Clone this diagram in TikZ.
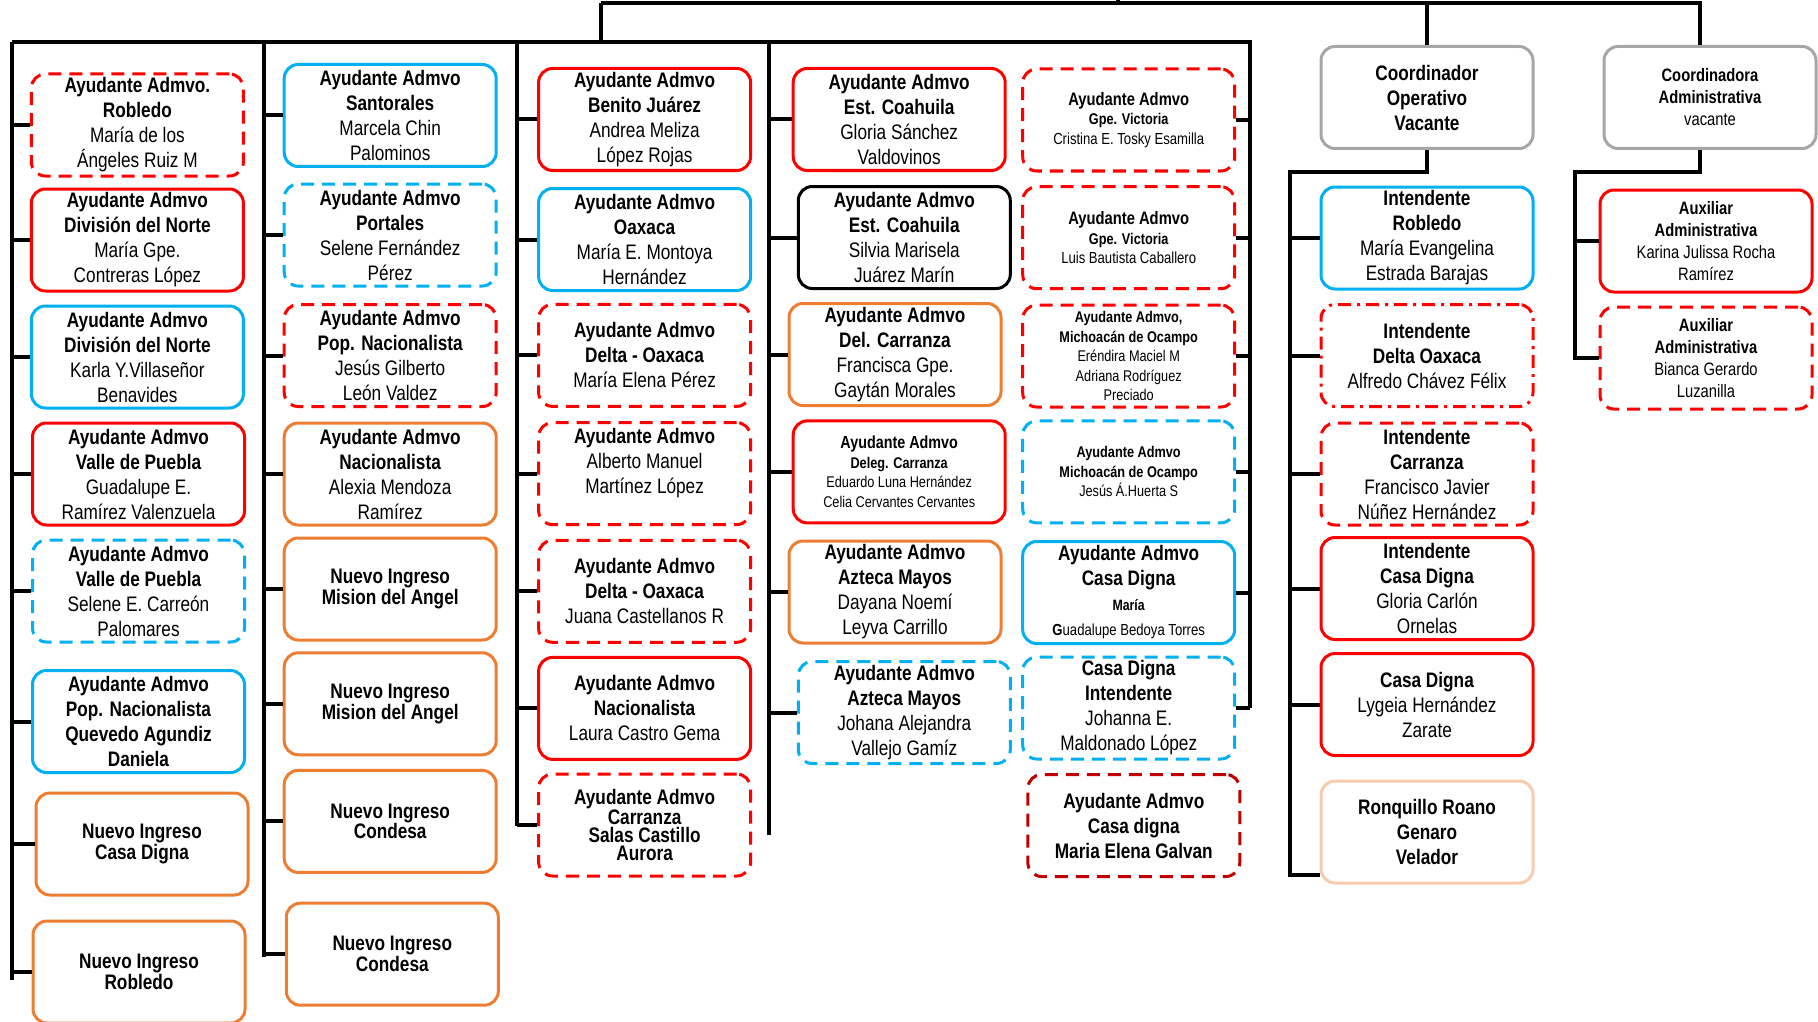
\documentclass[tikz,border=0pt]{standalone}
\usepackage{fontspec}
\setmainfont{Liberation Sans}
\newfontfamily\nar{Liberation Sans}[FakeStretch=0.82]
\definecolor{cred}{HTML}{FF0000}
\definecolor{cblue}{HTML}{00B0F0}
\definecolor{corange}{HTML}{ED7D31}
\definecolor{cgray}{HTML}{A6A6A6}
\definecolor{cpeach}{HTML}{F8CBAD}
\definecolor{cdred}{HTML}{C00000}
\newcommand\bl[1]{\textbf{#1}}
\newcommand\fs[2]{\fontsize{#1}{#2}\selectfont}
\tikzset{
  bx/.style={rounded corners=14pt, line width=3pt, minimum width=212pt, minimum height=102pt,
    inner sep=0pt, align=center, font=\nar\fs{21}{25}},
  dsh/.style={dash pattern=on 13pt off 8pt},
  ddot/.style={dash pattern=on 13pt off 6pt on 3pt off 6pt},
  redbox/.style={bx, draw=cred},
  rdbox/.style={bx, draw=cred, dsh},
  rddbox/.style={bx, draw=cred, ddot},
  bluebox/.style={bx, draw=cblue},
  bdbox/.style={bx, draw=cblue, dsh},
  obox/.style={bx, draw=corange},
  kbox/.style={bx, draw=black},
  gbox/.style={bx, draw=cgray},
  pbox/.style={bx, draw=cpeach},
  drbox/.style={bx, draw=cdred, dsh},
  tight/.style={font=\nar\bfseries\fs{21}{18}},
  small/.style={font=\nar\fs{15.5}{19.5}},
  mid/.style={font=\nar\fs{18}{22}},
  conn/.style={line width=4pt, line join=miter}
}
\begin{document}
\begin{tikzpicture}[x=1pt,y=-1pt]
\useasboundingbox (0,0) rectangle (1818,1022);

% ---------- column 1
\node[rdbox] (c1a) at (137.4,125) {\bl{Ayudante Admvo.}\\\bl{Robledo}\\María de los\\Ángeles Ruiz M};
\node[redbox] (c1b) at (137.4,240) {\bl{Ayudante Admvo}\\\bl{División del Norte}\\María Gpe.\\Contreras López};
\node[bluebox] (c1c) at (137.4,357) {\bl{Ayudante Admvo}\\\bl{División del Norte}\\Karla Y.Villaseñor\\Benavides};
\node[redbox] (c1d) at (138.5,474) {\bl{Ayudante Admvo}\\\bl{Valle de Puebla}\\Guadalupe E.\\Ramírez Valenzuela};
\node[bdbox] (c1e) at (138.5,591) {\bl{Ayudante Admvo}\\\bl{Valle de Puebla}\\Selene E. Carreón\\Palomares};
\node[bluebox] (c1f) at (138.5,721.5) {\bl{Ayudante Admvo}\\\bl{Pop. Nacionalista}\\\bl{Quevedo Agundiz}\\\bl{Daniela}};
\node[obox,tight] (c1g) at (142,844) {Nuevo Ingreso\\Casa Digna};
\node[obox,tight] (c1h) at (139,972) {Nuevo Ingreso\\Robledo};

% ---------- column 2
\node[bluebox] (c2a) at (390.2,115.5) {\bl{Ayudante Admvo}\\\bl{Santorales}\\Marcela Chin\\Palominos};
\node[bdbox] (c2b) at (390.2,235) {\bl{Ayudante Admvo}\\\bl{Portales}\\Selene Fernández\\Pérez};
\node[rdbox] (c2c) at (390.2,355.5) {\bl{Ayudante Admvo}\\\bl{Pop. Nacionalista}\\Jesús Gilberto\\León Valdez};
\node[obox] (c2d) at (390.2,474) {\bl{Ayudante Admvo}\\\bl{Nacionalista}\\Alexia Mendoza\\Ramírez};
\node[obox,tight] (c2e) at (390.2,589) {Nuevo Ingreso\\Mision del Angel};
\node[obox,tight] (c2f) at (390.2,703.8) {Nuevo Ingreso\\Mision del Angel};
\node[obox,tight] (c2g) at (390.2,821.4) {Nuevo Ingreso\\Condesa};
\node[obox,tight] (c2h) at (392.3,954.2) {Nuevo Ingreso\\Condesa};

% ---------- column 3
\node[redbox] (c3a) at (644.6,119.5) {\bl{Ayudante Admvo}\\\bl{Benito Juárez}\\Andrea Meliza\\López Rojas};
\node[bluebox] (c3b) at (644.6,239.5) {\bl{Ayudante Admvo}\\\bl{Oaxaca}\\María E. Montoya\\Hernández};
\node[rdbox] (c3c) at (644.6,355.4) {\bl{Ayudante Admvo}\\\bl{Delta - Oaxaca}\\María Elena Pérez};
\node[rdbox] (c3d) at (644.6,473.6) {\bl{Ayudante Admvo}\\Alberto Manuel\\Martínez López\\\mbox{}};
\node[rdbox] (c3e) at (644.6,591.3) {\bl{Ayudante Admvo}\\\bl{Delta - Oaxaca}\\Juana Castellanos R};
\node[redbox] (c3f) at (644.6,708.4) {\bl{Ayudante Admvo}\\\bl{Nacionalista}\\Laura Castro Gema};
\node[rdbox,tight] (c3g) at (644.6,825) {Ayudante Admvo\\Carranza\\Salas Castillo\\Aurora};

% ---------- column 4
\node[redbox] (c4a) at (899.2,119.5) {\bl{Ayudante Admvo}\\\bl{Est. Coahuila}\\Gloria Sánchez\\Valdovinos};
\node[kbox] (c4b) at (904.3,237.5) {\bl{Ayudante Admvo}\\\bl{Est. Coahuila}\\Silvia Marisela\\Juárez Marín};
\node[obox] (c4c) at (895,354.5) {\bl{Ayudante Admvo}\\\bl{Del. Carranza}\\Francisca Gpe.\\Gaytán Morales};
\node[redbox,small] (c4d) at (899.2,471.9) {\bl{\fs{17.5}{20}Ayudante Admvo}\\\bl{Deleg. Carranza}\\Eduardo Luna Hernández\\Celia Cervantes Cervantes};
\node[obox] (c4e) at (895,592) {\bl{Ayudante Admvo}\\\bl{Azteca Mayos}\\Dayana Noemí\\Leyva Carrillo};
\node[bdbox] (c4f) at (904.3,712.5) {\bl{Ayudante Admvo}\\\bl{Azteca Mayos}\\Johana Alejandra\\Vallejo Gamíz};

% ---------- column 5
\node[rdbox,small] (c5a) at (1128.7,120) {\bl{\fs{18}{20}Ayudante Admvo}\\\bl{Gpe. Victoria}\\{\fs{16}{19}Cristina E. Tosky Esamilla}};
\node[rdbox,small] (c5b) at (1128.7,237.7) {\bl{\fs{18}{20}Ayudante Admvo}\\\bl{Gpe. Victoria}\\{\fs{16}{19}Luis Bautista Caballero}};
\node[rdbox,small] (c5c) at (1128.7,356) {\bl{Ayudante Admvo,}\\\bl{Michoacán de Ocampo}\\Eréndira Maciel M\\Adriana Rodríguez\\Preciado};
\node[bdbox,small] (c5d) at (1128.7,471.9) {\bl{Ayudante Admvo}\\\bl{Michoacán de Ocampo}\\Jesús Á.Huerta S};
\node[bluebox] (c5e) at (1128.7,592.5) {\bl{Ayudante Admvo}\\\bl{Casa Digna}\\\bl{\fs{15}{19}María}\\{\fs{16}{19}\textbf{G}uadalupe Bedoya Torres}};
\node[bdbox] (c5f) at (1128.7,708) {\bl{Casa Digna}\\\bl{Intendente}\\Johanna E.\\Maldonado López};
\node[drbox] (c5g) at (1133.8,825.5) {\bl{Ayudante Admvo}\\\bl{Casa digna}\\\bl{Maria Elena Galvan}};

% ---------- coordinators
\node[gbox] (co) at (1427,97.5) {\bl{Coordinador}\\\bl{Operativo}\\\bl{Vacante}};
\node[gbox,mid] (ca) at (1710,97.5) {\bl{Coordinadora}\\\bl{Administrativa}\\vacante};

\node[bluebox] (o1) at (1427,238) {\bl{Intendente}\\\bl{Robledo}\\María Evangelina\\Estrada Barajas};
\node[rddbox] (o2) at (1427,355.5) {\bl{Intendente}\\\bl{Delta Oaxaca}\\Alfredo Chávez Félix};
\node[rdbox] (o3) at (1427,474) {\bl{Intendente}\\\bl{Carranza}\\Francisco Javier\\Núñez Hernández};
\node[redbox] (o4) at (1427,588.5) {\bl{Intendente}\\\bl{Casa Digna}\\Gloria Carlón\\Ornelas};
\node[redbox] (o5) at (1427,704.5) {\bl{Casa Digna}\\Lygeia Hernández\\Zarate};
\node[pbox] (o6) at (1427,832) {\bl{Ronquillo Roano}\\\bl{Genaro}\\\bl{Velador}};

\node[redbox,mid] (a1) at (1706,241) {\bl{Auxiliar}\\\bl{Administrativa}\\Karina Julissa Rocha\\Ramírez};
\node[rdbox,mid] (a2) at (1706,358) {\bl{Auxiliar}\\\bl{Administrativa}\\Bianca Gerardo\\Luzanilla};

% ---------- trunk coordinates
\coordinate (top0) at (600.6,3.5);
\coordinate (top1) at (1117.7,3.5);
\coordinate (topup) at (1117.7,-6);
\coordinate (topR) at (1700,3.5);
\coordinate (hL) at (11.6,41.7);
\coordinate (hM) at (600.6,41.7);
\coordinate (hR) at (1249.8,41.7);
\coordinate (k1) at (11.6,41.7);   \coordinate (k1b) at (11.6,980);
\coordinate (k2) at (264.3,41.7);  \coordinate (k2b) at (264.3,956.5);
\coordinate (k3) at (517,41.7);    \coordinate (k3b) at (517,825.5);
\coordinate (k4) at (769,41.7);    \coordinate (k4b) at (769,835);
\coordinate (k5b) at (1249.8,708);
\coordinate (opk) at (1290,172);   \coordinate (opkb) at (1290,875);
\coordinate (adk) at (1574.5,172); \coordinate (adkb) at (1574.5,358);

% ---------- connectors
\draw[conn] (top0) -- (topR) -- (topR |- ca.north);
\draw[conn] (top1) -- (topup);
\draw[conn] (top0) -- (hM);
\draw[conn] (hL) -- (hR) -- (k5b);
\draw[conn] (co.north |- top0) -- (co.north);
\draw[conn] (k1) -- (k1b);
\draw[conn] (k2) -- (k2b);
\draw[conn] (k3) -- (k3b);
\draw[conn] (k4) -- (k4b);
\foreach \n in {c1a,c1b,c1c,c1d,c1e,c1f,c1g,c1h} \draw[conn] (k1 |- \n.west) -- (\n.west);
\foreach \n in {c2a,c2b,c2c,c2d,c2e,c2f,c2g,c2h} \draw[conn] (k2 |- \n.west) -- (\n.west);
\foreach \n in {c3a,c3b,c3c,c3d,c3e,c3f,c3g} \draw[conn] (k3 |- \n.west) -- (\n.west);
\foreach \n in {c4a,c4b,c4c,c4d,c4e,c4f} \draw[conn] (k4 |- \n.west) -- (\n.west);
\foreach \n in {c5a,c5b,c5c,c5d,c5e,c5f} \draw[conn] (\n.east) -- (\n.east -| hR);

\draw[conn] (co.south) -- (co.south |- opk) -- (opk) -- (opkb) -- (opkb -| o6.west);
\foreach \n in {o1,o2,o3,o4,o5} \draw[conn] (opk |- \n.west) -- (\n.west);

\draw[conn] (topR |- ca.south) -- (topR |- adk) -- (adk) -- (adkb) -- (adkb -| a2.west);
\draw[conn] (adk |- a1.west) -- (a1.west);
\end{tikzpicture}
\end{document}
